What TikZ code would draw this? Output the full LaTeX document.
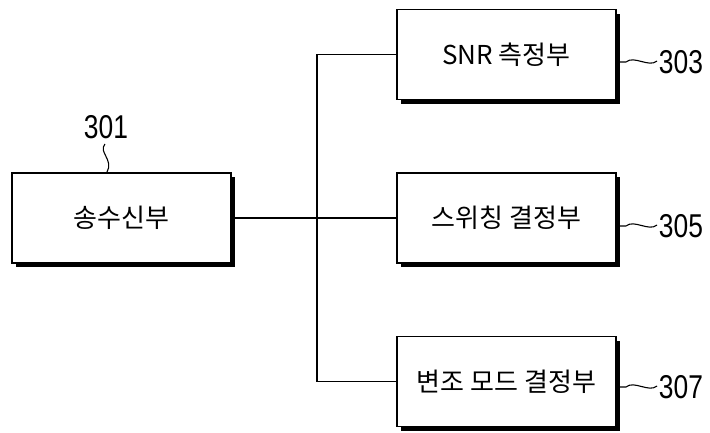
\documentclass[tikz,border=0pt]{standalone}
\usepackage{fontspec}
\setmainfont{Liberation Sans}
\newfontfamily\cjk{Noto Sans CJK KR}
\usetikzlibrary{shadows}
\begin{document}
\begin{tikzpicture}[x=1pt,y=-1pt,
  blk/.style={draw, line width=1.6pt, fill=white, minimum width=219pt, minimum height=90pt,
    inner sep=0pt, font=\cjk\fontsize{26}{30}\selectfont,
    general shadow={fill=black, shadow xshift=4pt, shadow yshift=-4pt}},
  num/.style={inner sep=0pt, font=\fontsize{33}{36}\selectfont, xscale=0.8},
  wire/.style={line width=1.2pt},
  lead/.style={line width=1.1pt}]
\useasboundingbox (0,0) rectangle (710,432);
\node[blk] (tx) at (121.5,218) {송수신부};
\node[blk] (snr) at (506.5,54.5) {SNR 측정부};
\node[blk] (sw) at (506.5,218) {스위칭 결정부};
\node[blk] (mod) at (506.5,381.5) {변조 모드 결정부};
\coordinate (j) at (317,218);
\draw[wire] (tx.east) -- (sw.west);
\draw[wire] (snr.west) -| (j) |- (mod.west);
% labels
\node[num] (l301) at (106,127) {301};
\node[num] (l303) at (681,62) {303};
\node[num] (l305) at (681,226) {305};
\node[num] (l307) at (681,387) {307};
\coordinate (t301) at (107,172);
\coordinate (s301) at (105,144);
\draw[lead] (s301) .. controls (98,152) and (114,160) .. (t301);
\foreach \n/\y in {303/62,305/226,307/387}{
  \coordinate (a\n) at (620,\y);
  \coordinate (b\n) at (657,\y-1);
  \draw[lead] (a\n) -- ++(6,0) .. controls +(8,-7) and +(-8,7) .. (b\n);
}
\end{tikzpicture}
\end{document}
